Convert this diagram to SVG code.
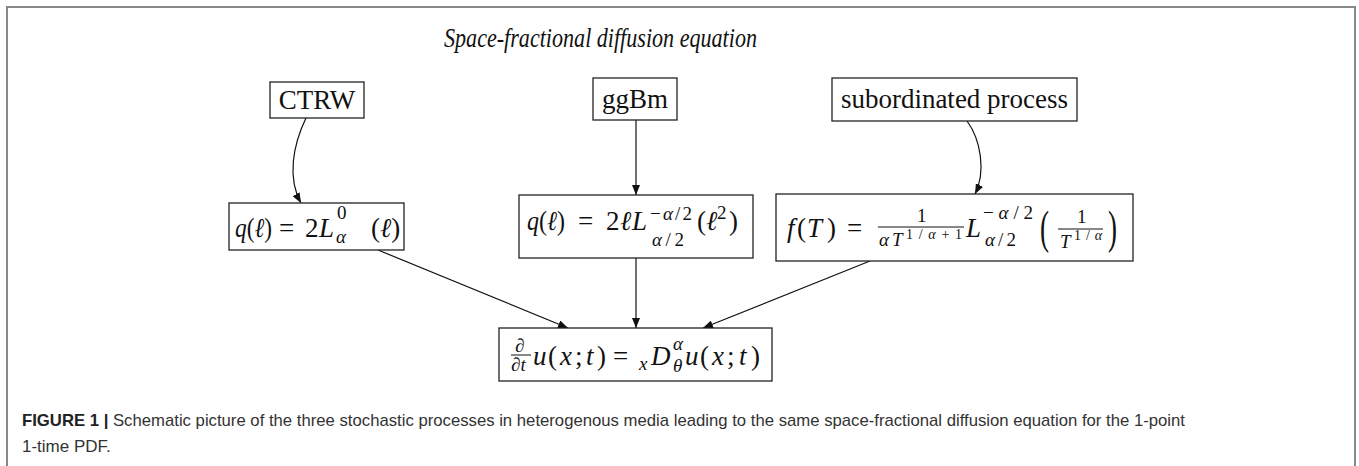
<svg xmlns="http://www.w3.org/2000/svg" width="1359" height="466" viewBox="0 0 1359 466">
<style>
.box{fill:#fff;stroke:#222;stroke-width:1.3}
.lbl{font-family:"Liberation Serif",serif;font-size:27px;fill:#111}
.m{font-family:"Liberation Serif",serif;font-size:27px;fill:#111}
.s{font-size:19px}
.ss{font-size:14px}
.i{font-style:italic}
.bar{stroke:#111;stroke-width:1}
.edge{fill:none;stroke:#111;stroke-width:1.2;marker-end:url(#ah)}
.frame{fill:none;stroke:#888;stroke-width:2}
.cap{font-family:"Liberation Sans",Arial,sans-serif;font-size:17px;fill:#333}
</style>
<defs>
<marker id="ah" markerUnits="userSpaceOnUse" markerWidth="10" markerHeight="8" refX="10" refY="4" orient="auto">
<path d="M0,0 L10,4 L0,8 z" fill="#111"/>
</marker>
</defs>
<rect width="1359" height="466" fill="#fff"/>
<path class="frame" d="M7,466 V7 H1355 V466"/>
<text x="444" y="47" textLength="313" lengthAdjust="spacingAndGlyphs" font-family="Liberation Serif,serif" font-style="italic" font-size="28" fill="#111">Space-fractional diffusion equation</text>

<g id="connectors">
<path class="edge" d="M306,118 C293,145 287,178 301,203"/>
<path class="edge" d="M636,120 L636,195"/>
<path class="edge" d="M967,121 C981,140 986,172 975,194"/>
<path class="edge" d="M378,250 L568,328"/>
<path class="edge" d="M636,258 L636,328"/>
<path class="edge" d="M870,261 L703,328"/>
</g>

<g id="ctrw">
<rect class="box" x="270" y="82" width="94" height="36"/>
<text class="lbl" x="317" y="109" text-anchor="middle">CTRW</text>
</g>
<g id="ggbm">
<rect class="box" x="593" y="78" width="84" height="42"/>
<text class="lbl" x="635" y="108" text-anchor="middle">ggBm</text>
</g>
<g id="subordinated">
<rect class="box" x="832" y="78" width="245" height="43"/>
<text class="lbl" x="954.500" y="108" text-anchor="middle">subordinated process</text>
</g>

<g id="q-ctrw">
<rect class="box" x="229" y="203" width="175" height="47"/>
<text class="m" x="235" y="237" textLength="37" lengthAdjust="spacingAndGlyphs"><tspan class="i">q</tspan>(<tspan class="i">ℓ</tspan>)</text>
<text class="m" x="279" y="237">=</text>
<text class="m" x="305" y="237">2</text>
<text class="m i" x="319" y="237">L</text>
<text class="m s" x="337" y="219">0</text>
<text class="m s i" x="336" y="243">α</text>
<text class="m" x="371" y="237">(<tspan class="i">ℓ</tspan>)</text>
</g>

<g id="q-ggbm">
<rect class="box" x="519" y="195" width="234" height="63"/>
<text class="m" x="527" y="230" textLength="38" lengthAdjust="spacingAndGlyphs"><tspan class="i">q</tspan>(<tspan class="i">ℓ</tspan>)</text>
<text class="m" x="578" y="230">=</text>
<text class="m" x="606" y="230">2</text>
<text class="m i" x="620" y="230">ℓ</text>
<text class="m i" x="632" y="230">L</text>
<text class="m s" x="650" y="220" textLength="42">−<tspan class="i">α</tspan>/2</text>
<text class="m s" x="652" y="246" textLength="32"><tspan class="i">α</tspan>/2</text>
<text class="m" x="697" y="230">(<tspan class="i">ℓ</tspan></text>
<text class="m s" x="717" y="219">2</text>
<text class="m" x="729" y="230">)</text>
</g>

<g id="f-sub">
<rect class="box" x="776" y="194" width="357" height="67"/>
<text class="m i" x="787" y="237">f</text>
<text class="m" x="797" y="237">(</text>
<text class="m i" x="807" y="237">T</text>
<text class="m" x="827" y="237">)</text>
<text class="m" x="847" y="237">=</text>
<text class="m s" x="917" y="222">1</text>
<line class="bar" x1="878" y1="227" x2="964" y2="227"/>
<text class="m s i" x="879" y="246">α</text>
<text class="m s i" x="892" y="246">T</text>
<text class="m ss" x="906" y="239" textLength="56">1/<tspan class="i">α</tspan>+1</text>
<text class="m i" x="966" y="237">L</text>
<text class="m s" x="983" y="219" textLength="50">−<tspan class="i">α</tspan>/2</text>
<text class="m s" x="985" y="246" textLength="31"><tspan class="i">α</tspan>/2</text>
<text class="m" transform="translate(1040,243) scale(1,1.75)">(</text>
<text class="m s" x="1077" y="223">1</text>
<line class="bar" x1="1058" y1="229" x2="1103" y2="229"/>
<text class="m s i" x="1060" y="248">T</text>
<text class="m ss" x="1074" y="240" textLength="28">1/<tspan class="i">α</tspan></text>
<text class="m" transform="translate(1108,243) scale(1,1.75)">)</text>
</g>

<g id="equation">
<rect class="box" x="499" y="328" width="273" height="53"/>
<text class="m s" x="515" y="352">∂</text>
<line class="bar" x1="511" y1="355" x2="531" y2="355"/>
<text class="m s" x="511" y="371">∂<tspan class="i">t</tspan></text>
<text class="m i" x="533" y="365">u</text>
<text class="m" x="548" y="365">(</text>
<text class="m i" x="560" y="365">x</text>
<text class="m" x="575" y="365">;</text>
<text class="m i" x="586" y="365">t</text>
<text class="m" x="597" y="365">)</text>
<text class="m" x="613" y="365">=</text>
<text class="m s i" x="639" y="370">x</text>
<text class="m i" x="651" y="365">D</text>
<text class="m s i" x="673" y="350">α</text>
<text class="m s i" x="673" y="372">θ</text>
<text class="m i" x="685" y="365">u</text>
<text class="m" x="700" y="365">(</text>
<text class="m i" x="712" y="365">x</text>
<text class="m" x="727" y="365">;</text>
<text class="m i" x="739" y="365">t</text>
<text class="m" x="751" y="365">)</text>
</g>

<g id="caption">
<text class="cap" x="22" y="426" textLength="1163" lengthAdjust="spacingAndGlyphs"><tspan font-weight="bold" fill="#222">FIGURE 1 |</tspan> Schematic picture of the three stochastic processes in heterogenous media leading to the same space-fractional diffusion equation for the 1-point</text>
<text class="cap" x="22" y="452">1-time PDF.</text>
</g>
</svg>
